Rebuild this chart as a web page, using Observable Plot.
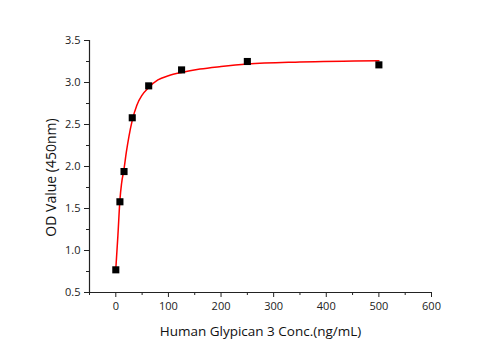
<!DOCTYPE html>
<html><head><meta charset="utf-8">
<script src="https://cdn.jsdelivr.net/npm/d3@7"></script>
<script src="https://cdn.jsdelivr.net/npm/@observablehq/plot@0.6"></script>
<style>body{margin:0;background:#fff}</style>
</head><body><div id="chart"></div>
<script>
const conc = [0, 7.8125, 15.625, 31.25, 62.5, 125, 250, 500];
const od = [0.77, 1.58, 1.94, 2.58, 2.96, 3.15, 3.25, 3.21];
const fitX = [0, 4, 7.8, 11, 15.6, 20, 25, 31.25, 40, 50, 62.5, 80, 100, 125, 160, 200, 250, 350, 500];
const fitY = [0.78, 1.18, 1.60, 1.80, 1.97, 2.17, 2.36, 2.55, 2.73, 2.85, 2.94, 3.03, 3.08, 3.12, 3.16, 3.19, 3.22, 3.245, 3.26];
const xTicks = [0, 100, 200, 300, 400, 500, 600];
const xMinor = [-50, 50, 150, 250, 350, 450, 550];
const yTicks = [0.5, 1.0, 1.5, 2.0, 2.5, 3.0, 3.5];
const yMinor = [0.75, 1.25, 1.75, 2.25, 2.75, 3.25];
const xLabel = "Human Glypican 3 Conc.(ng/mL)";
const yLabel = "OD Value (450nm)";

const points = conc.map((c, i) => ({x: c, y: od[i]}));
const fit = fitX.map((c, i) => ({x: c, y: fitY[i]}));

const chart = Plot.plot({
  width: 501, height: 350,
  marginLeft: 89, marginRight: 70, marginTop: 40, marginBottom: 58,
  style: {fontFamily: "'Open Sans', sans-serif", fontSize: "11px", color: "#222"},
  x: {domain: [-50, 600]},
  y: {domain: [0.5, 3.5]},
  marks: [
    Plot.axisX({ticks: xMinor, tickSize: 3, tickFormat: () => "", label: null}),
    Plot.axisX({ticks: xTicks, tickSize: 5, tickPadding: 5, tickFormat: d3.format("d"), label: null}),
    Plot.axisY({ticks: yMinor, tickSize: 3, tickFormat: () => "", label: null}),
    Plot.axisY({ticks: yTicks, tickSize: 5, tickPadding: 4, tickFormat: d3.format(".1f"), label: null}),
    Plot.text([xLabel], {frameAnchor: "bottom", dy: 39, fontSize: 13.5, fill: "#111", lineAnchor: "middle"}),
    Plot.text([yLabel], {frameAnchor: "left", rotate: -90, dx: -38, dy: 11, fontSize: 14, fill: "#111", lineAnchor: "middle", textAnchor: "middle"}),
    Plot.ruleX([-50], {stroke: "#222", strokeWidth: 1.2}),
    Plot.ruleY([0.5], {stroke: "#222", strokeWidth: 1.2}),
    Plot.line(fit, {x: "x", y: "y", stroke: "#ff0000", strokeWidth: 1.5, curve: "monotone-x"}),
    Plot.dot(points, {x: "x", y: "y", symbol: "square", r: 4, fill: "#000", stroke: "none"})
  ]
});
document.getElementById("chart").append(chart);
</script>
</body></html>
